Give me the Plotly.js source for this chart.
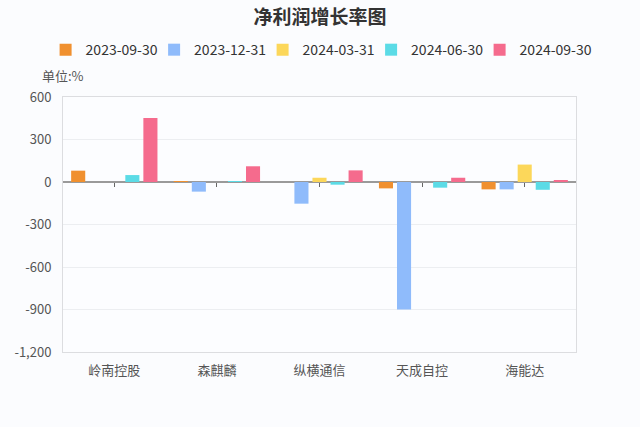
<!DOCTYPE html>
<html>
<head>
<meta charset="utf-8">
<script src="https://cdn.plot.ly/plotly-3.0.1.min.js"></script>
<style>html,body{margin:0;padding:0;background:#fbfcfe;}#chart{width:640px;height:427px;}</style>
</head>
<body>
<div id="chart"></div>
<script>
const categories = ["岭南控股", "森麒麟", "纵横通信", "天成自控", "海能达"];
const seriesNames = ["2023-09-30", "2023-12-31", "2024-03-31", "2024-06-30", "2024-09-30"];
const s20230930 = [80, 3, 0, -45, -52];
const s20231231 = [0, -68, -153, -900, -52];
const s20240331 = [0, 0, 30, 0, 123];
const s20240630 = [49, 5, -19, -40, -55];
const s20240930 = [452, 111, 82, 30, 8];
const colors = ["#f0902f", "#8fbbfb", "#fcd75a", "#5bdbe6", "#f56b8d"];
const yTickVals = [600, 300, 0, -300, -600, -900, -1200];
const yTickText = ["600", "300", "0", "-300", "-600", "-900", "-1,200"];

const seriesValues = [s20230930, s20231231, s20240331, s20240630, s20240930];
const font = "'Noto Sans CJK SC', 'Noto Sans', sans-serif";

const W = 640, H = 427;
const M = {l: 63, r: 64, t: 97, b: 75};
const plotW = W - M.l - M.r;

// one legend per series so they can be spaced evenly like the reference
const legendKeys = seriesNames.map((_, i) => i === 0 ? "legend" : "legend" + (i + 1));

const traces = seriesValues.map((vals, i) => ({
  type: "bar",
  name: seriesNames[i],
  x: categories,
  y: vals,
  marker: {color: colors[i]},
  legend: legendKeys[i],
  hoverinfo: "x+y+name"
}));
// helper trace for the tick marks on the zero axis
traces.push({
  type: "scatter", mode: "none", x: categories, y: categories.map(() => null),
  xaxis: "x2", yaxis: "y", showlegend: false, hoverinfo: "skip"
});

const layout = {
  width: W, height: H,
  paper_bgcolor: "#fbfcfe",
  plot_bgcolor: "#fcfdff",
  font: {family: font, color: "#555"},
  margin: M,
  title: {text: "净利润增长率图", x: 0.5, xanchor: "center", y: 0.96, yanchor: "middle", yref: "container",
          font: {size: 19, color: "#333", family: font, weight: 700}},
  barmode: "group",
  bargap: 0.12,
  bargroupgap: 0.22,
  showlegend: true,
  xaxis: {
    type: "category",
    range: [-0.5, 4.5],
    showline: true, mirror: true, linecolor: "#dcdde0", linewidth: 1,
    showgrid: false, zeroline: false,
    ticks: "", ticklabelstandoff: 6,
    tickfont: {size: 13, color: "#555"}
  },
  xaxis2: {
    type: "category",
    overlaying: "x",
    matches: "x",
    range: [-0.5, 4.5],
    anchor: "free",
    position: 1200 / 1800,
    showline: false, showgrid: false, zeroline: false,
    showticklabels: false,
    ticks: "outside", ticklen: 4, tickwidth: 1, tickcolor: "#666"
  },
  yaxis: {
    range: [-1200, 600],
    tickvals: yTickVals, ticktext: yTickText,
    showline: true, mirror: true, linecolor: "#dcdde0", linewidth: 1,
    showgrid: true, gridcolor: "#eceef1", gridwidth: 1,
    zeroline: true, zerolinecolor: "#9a9a9a", zerolinewidth: 1.5,
    ticks: "", ticklabelstandoff: 8,
    tickfont: {size: 13, color: "#555"}
  },
  annotations: [{
    text: "单位:%", xref: "paper", yref: "paper", x: 0, y: 1.086,
    xanchor: "center", yanchor: "middle", showarrow: false,
    font: {size: 13, color: "#555"}
  }]
};

legendKeys.forEach((key, i) => {
  const textStartPx = 86 + i * 108.5;
  const leftPx = textStartPx - 40.4;
  layout[key] = {
    orientation: "h", x: (leftPx - M.l) / plotW, xanchor: "left", y: 1.184, yanchor: "middle",
    font: {size: 14, color: "#333"}, itemwidth: 30,
    bgcolor: "rgba(0,0,0,0)"
  };
});

Plotly.newPlot("chart", traces, layout, {displayModeBar: false, responsive: false});
</script>
</body>
</html>
